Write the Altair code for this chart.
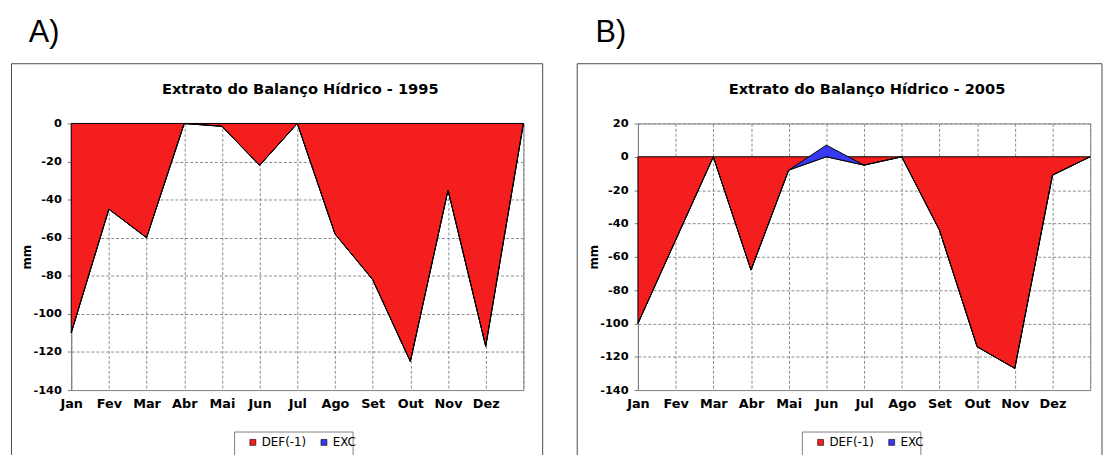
import altair as alt
import pandas as pd

# ---------------- data ----------------
MONTHS = ["Jan", "Fev", "Mar", "Abr", "Mai", "Jun", "Jul", "Ago", "Set", "Out", "Nov", "Dez", ""]
DEF_1995 = [-110, -45, -60, 0, -1.5, -22, 0, -58, -82, -125, -35, -117, 0]
EXC_1995 = [0, 0, 0, 0, 0, 0, 0, 0, 0, 0, 0, 0, 0]
DEF_2005 = [-100, -50, 0, -68, -8, 0, -5, 0, -44, -114, -127, -11, 0]
EXC_2005 = [0, 0, 0, 0, 0, 7, 0, 0, 0, 0, 0, 0, 0]
YTICKS_1995 = [-140, -120, -100, -80, -60, -40, -20, 0]
YTICKS_2005 = [-140, -120, -100, -80, -60, -40, -20, 0, 20]
SERIES = ["DEF(-1)", "EXC"]
COLORS = ["#F41E1E", "#3838F0"]
PANEL_LABELS = ["A)", "B)"]
TITLES = ["Extrato do Balanço Hídrico - 1995", "Extrato do Balanço Hídrico - 2005"]
Y_TITLE = "mm"

W, H = 458, 270
FONT = "DejaVu Sans"
GRID = "#8a8a8a"

label_expr = "[" + ",".join("'%s'" % m for m in MONTHS) + "][datum.value]"


def panel(defs, excs, yticks, label, title, frame_left, frame_right, legend_x, box_x, anchor=False):
    df = pd.DataFrame({"i": list(range(len(MONTHS))), "m": MONTHS, "DEF": defs, "EXC": excs})
    df["TOP"] = df["DEF"] + df["EXC"]
    ydom = [min(yticks), max(yticks)]

    x = alt.X(
        "i:Q",
        scale=alt.Scale(domain=[0, len(MONTHS) - 1], nice=False, zero=False),
        axis=alt.Axis(
            values=list(range(len(MONTHS))), labelExpr=label_expr, title=None,
            ticks=False, domain=False, labelFlush=False, labelOverlap=False,
            labelPadding=8, labelFont=FONT, labelFontWeight="bold", labelFontSize=13,
            labelColor="black", grid=True, gridDash=[3, 2], gridColor=GRID,
        ),
    )
    yaxis = alt.Axis(
        values=yticks, labelExpr="'' + datum.value", title=Y_TITLE,
        labelFont=FONT, labelFontWeight="bold", labelFontSize=11.5, labelColor="black",
        labelPadding=6, tickSize=4, tickColor="#808080", domainColor="#808080",
        grid=True, gridDash=[3, 2], gridColor=GRID,
        titleX=-45, titleY=H / 2, titleAngle=270, titleAlign="center", titleBaseline="middle",
        titleFont=FONT, titleFontWeight="bold", titleFontSize=12, titleColor="black",
    )
    yscale = alt.Scale(domain=ydom, nice=False, zero=False)
    legend = alt.Legend(
        orient="none", legendX=legend_x, legendY=317, direction="horizontal", title=None,
        symbolType="square", symbolSize=36, symbolStrokeColor="black", symbolStrokeWidth=0.6,
        symbolOpacity=1, labelFont=FONT, labelFontSize=12, labelColor="black",
        labelOffset=3, columnPadding=11, padding=0,
    )
    color = alt.Color("s:N", scale=alt.Scale(domain=SERIES, range=COLORS), legend=legend)

    base = alt.Chart(df)
    def_area = base.transform_calculate(s="'%s'" % SERIES[0]).mark_area(
        opacity=1, stroke="black", strokeWidth=1
    ).encode(x=x, y=alt.Y("DEF:Q", scale=yscale, axis=yaxis, stack=None), y2=alt.datum(0), color=color)
    exc_area = base.transform_calculate(s="'%s'" % SERIES[1]).mark_area(
        opacity=1, stroke="black", strokeWidth=1
    ).encode(x=x, y=alt.Y("DEF:Q", scale=yscale, axis=yaxis, stack=None), y2="TOP:Q", color=color)

    lab = alt.Chart(pd.DataFrame({"t": [label]})).mark_text(
        align="left", baseline="alphabetic", font="Liberation Sans", fontSize=31, color="black"
    ).encode(x=alt.value(-43), y=alt.value(-82), text="t:N")
    ttl = alt.Chart(pd.DataFrame({"t": [title]})).mark_text(
        align="center", baseline="alphabetic", font=FONT, fontWeight="bold", fontSize=14.8, color="black"
    ).encode(x=alt.value(232), y=alt.value(-30), text="t:N")
    frame = alt.Chart(pd.DataFrame({"t": [label]})).mark_rect(
        fillOpacity=0, stroke="#4a4a4a", strokeWidth=1
    ).encode(x=alt.value(frame_left), x2=alt.value(frame_right), y=alt.value(-60.5), y2=alt.value(345))
    lbox = alt.Chart(pd.DataFrame({"t": [label]})).mark_rect(
        fillOpacity=0, stroke="#808080", strokeWidth=1
    ).encode(x=alt.value(box_x), x2=alt.value(box_x + 120), y=alt.value(312.5), y2=alt.value(345))

    layers = [frame, lbox, def_area, exc_area, lab, ttl]
    if anchor:
        anc = alt.Chart(pd.DataFrame({"t": [label]})).mark_rect(opacity=0).encode(
            x=alt.value(-63), x2=alt.value(-62), y=alt.value(-113), y2=alt.value(-112)
        )
        layers.append(anc)
    return alt.layer(*layers).properties(width=W, height=H)


pA = panel(DEF_1995, EXC_1995, YTICKS_1995, PANEL_LABELS[0], TITLES[0], -60.5, 477.5, 178, 165.5, anchor=True)
pB = panel(DEF_2005, EXC_2005, YTICKS_2005, PANEL_LABELS[1], TITLES[1], -61.5, 470, 179, 166.5)

chart = (
    alt.hconcat(pA, pB, spacing=116, bounds="flush")
    .resolve_scale(color="independent", x="independent", y="independent")
    .resolve_legend(color="independent")
    .properties(padding=0, autosize=alt.AutoSizeParams(type="pad"))
    .configure_view(stroke="#808080", strokeWidth=1)
)

chart.save("out.html", embed_options={"renderer": "svg", "actions": False})
